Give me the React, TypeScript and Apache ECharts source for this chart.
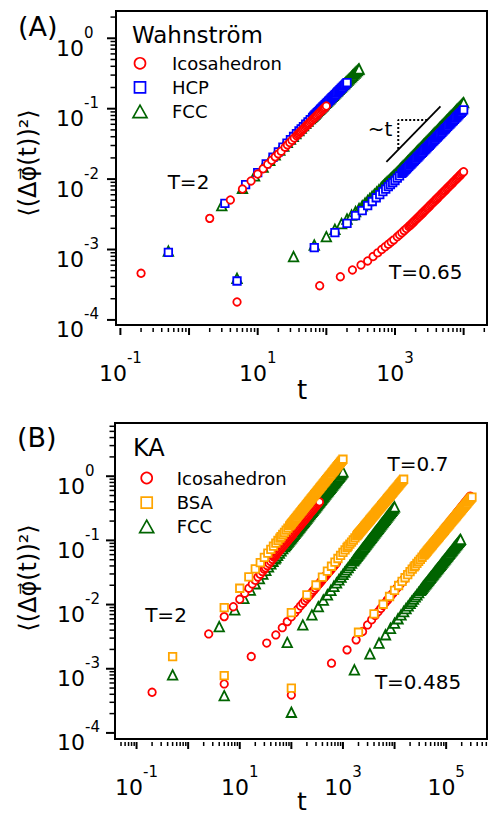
import { useEffect, useRef } from 'react';
import * as echarts from 'echarts';

const FONT = "'DejaVu Sans', 'Noto Sans', sans-serif";
const RED = '#ff0000';
const BLUE = '#0000ff';
const GREEN = '#006400';
const ORANGE = '#ffa500';

// ---------- Panel A (Wahnström) : [t, <(Δφ(t))²>] ----------
const wIcoT2 = [[0.2,4.6e-4],[2,2.77e-3],[4,5.05e-3],[6,7.23e-3],[8,9.4e-3],[10,1.18e-2],[12,1.40e-2],[14,1.63e-2],[16,1.85e-2],[18,2.07e-2],[20,2.28e-2],[22,2.49e-2],
[25.1,0.0284],[27.1,0.0306],[29.3,0.0330],[31.6,0.0356],[34.1,0.0384],[36.9,0.0413],[39.8,0.0445],[43.0,0.0480],[46.4,0.0516],[50.1,0.0557],[54.1,0.0600],[58.4,0.0646],[63.1,0.0697],[68.1,0.0750],[73.6,0.0809],[79.4,0.0871],[85.8,0.0940],[92.6,0.101],[100,0.109]];
const wIcoT2Fill = [[38.3,0.0429],[41.4,0.0463],[44.7,0.0498],[48.2,0.0537],[52.1,0.0579],[56.2,0.0623],[60.7,0.0672],[65.6,0.0724],[70.8,0.0780],[76.4,0.0840],[82.5,0.0906],[89.1,0.0975],[96.2,0.105]];
const wIcoT065 = [[5,1.8e-4],[80,3.06e-4],[160,4.11e-4],[240,5.12e-4],[320,6.03e-4],[400,6.87e-4],[480,7.94e-4],[560,8.97e-4],[640,9.98e-4],[720,1.094e-3],[800,1.189e-3],[880,1.279e-3],[960,1.371e-3],
[1080,1.514e-3],[1166,1.618e-3],[1259,1.734e-3],[1359,1.854e-3],[1468,1.985e-3],[1585,2.123e-3],[1711,2.272e-3],[1848,2.439e-3],[1995,2.628e-3],[2154,2.831e-3],[2326,3.05e-3],[2512,3.286e-3],[2712,3.54e-3],[2929,3.814e-3],[3162,4.11e-3],[3415,4.43e-3],[3687,4.776e-3],[3981,5.149e-3],[4299,5.55e-3],[4642,5.98e-3],[5012,6.45e-3],[5412,6.955e-3],[5843,7.50e-3],[6310,8.09e-3],[6813,8.72e-3],[7356,9.41e-3],[7943,1.015e-2],[8577,1.095e-2],[9261,1.181e-2],[10000,1.274e-2]];
const wIcoT065Fill = [[1647,2.198e-3],[1778,2.356e-3],[1920,2.534e-3],[2073,2.730e-3],[2239,2.941e-3],[2417,3.168e-3],[2610,3.413e-3],[2818,3.677e-3],[3043,3.962e-3],[3286,4.27e-3],[3548,4.603e-3],[3831,4.963e-3],[4137,5.35e-3],[4467,5.765e-3],[4823,6.215e-3],[5208,6.703e-3],[5623,7.228e-3],[6072,7.795e-3],[6556,8.405e-3],[7079,9.065e-3],[7644,9.78e-3],[8254,1.055e-2],[8913,1.138e-2],[9624,1.228e-2]];
const wHcpT2 = [[0.5,9.1e-4],[3.33,4.53e-3],[6.67,8.32e-3],[10,1.238e-2],[13.3,1.641e-2],[16.7,2.043e-2],[20,2.443e-2],[23.3,2.842e-2],[26.7,3.24e-2],[30,3.636e-2],[33.3,4.03e-2],[36.7,4.43e-2],[40,4.82e-2],
[43.0,5.175e-2],[46.4,5.58e-2],[50.1,6.02e-2],[54.1,6.49e-2],[58.4,6.997e-2],[63.1,7.54e-2],[68.1,8.13e-2],[73.6,8.77e-2],[79.4,9.45e-2],[85.8,0.1019],[92.6,0.1099],[100,0.1185],[108,0.1277],[116.6,0.1377],[125.9,0.1485],[135.9,0.1601],[146.8,0.1726],[158.5,0.1862],[171.1,0.2007],[184.8,0.2164],[200,0.2339]];
const wHcpT2Fill = [[65.6,0.07835],[70.8,0.0845],[76.4,0.0911],[82.5,0.0982],[89.1,0.1059],[96.2,0.1142],[103.9,0.1231],[112.2,0.1327],[121.2,0.1431],[130.8,0.1543],[141.3,0.1664],[152.5,0.1794],[164.7,0.1935],[177.8,0.2086],[192.0,0.2252]];
const wHcpT065 = [[5,3.57e-4],[66.7,1.062e-3],[133.3,1.734e-3],[200,2.355e-3],[266.7,3.02e-3],[333.3,3.556e-3],[400,4.19e-3],[466.7,4.81e-3],[533.3,5.43e-3],[600,6.03e-3],[666.7,6.64e-3],[733.3,7.225e-3],[800,7.82e-3],
[858,8.32e-3],[926,8.92e-3],[1000,9.55e-3],[1080,1.031e-2],[1166,1.114e-2],[1259,1.203e-2],[1359,1.299e-2],[1468,1.403e-2],[1585,1.515e-2],[1711,1.636e-2],[1848,1.767e-2],[1995,1.908e-2],[2154,2.061e-2],[2326,2.225e-2],[2512,2.403e-2],[2712,2.595e-2],[2929,2.803e-2],[3162,3.027e-2],[3415,3.268e-2],[3687,3.53e-2],[3981,3.812e-2],[4299,4.116e-2],[4642,4.446e-2],[5012,4.80e-2],[5412,5.185e-2],[5843,5.60e-2],[6310,6.048e-2],[6813,6.53e-2],[7356,7.05e-2],[7943,7.617e-2],[8577,8.228e-2],[9261,8.884e-2],[10000,9.594e-2]];
const wHcpT065Fill = [[1308,1.251e-2],[1413,1.351e-2],[1525,1.459e-2],[1647,1.576e-2],[1778,1.702e-2],[1920,1.838e-2],[2073,1.985e-2],[2239,2.143e-2],[2417,2.314e-2],[2610,2.499e-2],[2818,2.699e-2],[3043,2.915e-2],[3286,3.148e-2],[3548,3.399e-2],[3831,3.671e-2],[4137,3.964e-2],[4467,4.281e-2],[4823,4.623e-2],[5208,4.993e-2],[5623,5.393e-2],[6072,5.824e-2],[6556,6.289e-2],[7079,6.79e-2],[7644,7.334e-2],[8254,7.923e-2],[8913,8.556e-2],[9624,9.239e-2]];
const wFccT2 = [[0.5,9.5e-4],[3,4.19e-3],[6,7.41e-3],[9,1.110e-2],[12,1.480e-2],[15,1.849e-2],[18,2.216e-2],[21,2.585e-2],[24,2.953e-2],[27,3.319e-2],[30,3.69e-2],[33,4.063e-2],[36,4.42e-2],
[39.8,4.893e-2],[43.0,5.313e-2],[46.4,5.735e-2],[50.1,6.19e-2],[54.1,6.68e-2],[58.4,7.216e-2],[63.1,7.79e-2],[68.1,8.41e-2],[73.6,9.08e-2],[79.4,9.80e-2],[85.8,0.1058],[92.6,0.1143],[100,0.1233],[108,0.1331],[116.6,0.1438],[125.9,0.1551],[135.9,0.1675],[146.8,0.1809],[158.5,0.1953],[171.1,0.2108],[184.8,0.2276],[199.5,0.2457],[215.4,0.2652],[232.6,0.2863],[251.2,0.3091],[271.2,0.3337],[292.9,0.3603],[300,0.3664]];
const wFccT2Fill = [[60.7,0.07503],[65.6,0.081],[70.8,0.08745],[76.4,0.0944],[82.5,0.1019],[89.1,0.1101],[96.2,0.1188],[103.9,0.1282],[112.2,0.1385],[121.2,0.1495],[130.8,0.1613],[141.3,0.1742],[152.5,0.1881],[164.7,0.2031],[177.8,0.2192],[192.0,0.2367],[207.3,0.2555],[223.9,0.2758],[241.7,0.2977],[261.0,0.3214],[281.8,0.347]];
const wFccT065 = [[5,3.9e-4],[33.3,7.94e-4],[66.7,1.159e-3],[100,1.521e-3],[133.3,1.934e-3],[166.7,2.332e-3],[200,2.714e-3],[233.3,3.088e-3],[266.7,3.452e-3],[300,3.81e-3],[333.3,4.18e-3],[366.7,4.566e-3],[400,4.95e-3],
[429.9,5.30e-3],[464.2,5.69e-3],[501.2,6.11e-3],[541.2,6.56e-3],[584.3,7.05e-3],[631,7.57e-3],[681.3,8.13e-3],[735.6,8.73e-3],[794.3,9.38e-3],[857.7,1.007e-2],[926.1,1.081e-2],[1000,1.161e-2],[1080,1.256e-2],[1166,1.358e-2],[1259,1.469e-2],[1359,1.589e-2],[1468,1.718e-2],[1585,1.858e-2],[1711,2.009e-2],[1848,2.173e-2],[1995,2.35e-2],[2154,2.541e-2],[2326,2.748e-2],[2512,2.972e-2],[2712,3.214e-2],[2929,3.475e-2],[3162,3.758e-2],[3415,4.064e-2],[3687,4.395e-2],[3981,4.753e-2],[4299,5.14e-2],[4642,5.559e-2],[5012,6.012e-2],[5412,6.501e-2],[5843,7.031e-2],[6310,7.603e-2],[6813,8.222e-2],[7356,8.892e-2],[7943,9.616e-2],[8577,0.104],[9261,0.1125],[10000,0.1216]];
const wFccT065Fill = [[655.7,7.85e-3],[707.9,8.43e-3],[764.4,9.055e-3],[825.4,9.725e-3],[891.3,1.044e-2],[962.4,1.121e-2],[1039,1.209e-2],[1122,1.307e-2],[1212,1.414e-2],[1308,1.529e-2],[1413,1.654e-2],[1525,1.788e-2],[1647,1.934e-2],[1778,2.091e-2],[1920,2.262e-2],[2073,2.446e-2],[2239,2.645e-2],[2417,2.86e-2],[2610,3.093e-2],[2818,3.345e-2],[3043,3.617e-2],[3286,3.911e-2],[3548,4.23e-2],[3831,4.574e-2],[4137,4.947e-2],[4467,5.35e-2],[4823,5.786e-2],[5208,6.257e-2],[5623,6.766e-2],[6072,7.317e-2],[6556,7.913e-2],[7079,8.557e-2],[7644,9.254e-2],[8254,0.1001],[8913,0.1083],[9624,0.1171]];

// ---------- Panel B (KA) ----------
const kIcoT2 = [[0.2,4.3e-4],[2.5,3.49e-3],[5,6.49e-3],[7.5,9.27e-3],[10,1.208e-2],[12.5,1.504e-2],[15,1.80e-2],[17.5,2.094e-2],[20,2.387e-2],[22.5,2.679e-2],[25,2.972e-2],[27.5,3.262e-2],[30,3.555e-2],
[31.6,3.745e-2],[34.1,4.04e-2],[36.9,4.355e-2],[39.8,4.697e-2],[43.0,5.064e-2],[46.4,5.46e-2],[50.1,5.89e-2],[54.1,6.35e-2],[58.4,6.85e-2],[63.1,7.386e-2],[68.1,7.963e-2],[73.6,8.59e-2],[79.4,9.26e-2],[85.8,9.99e-2],[92.6,0.1077],[100,0.1161],[108,0.1252],[116.6,0.135],[125.9,0.1456],[135.9,0.157],[146.8,0.1693],[158.5,0.1826],[171.1,0.1969],[184.8,0.2124],[199.5,0.2291],[215.4,0.247],[232.6,0.2664],[251.2,0.2872],[271.2,0.3097],[292.9,0.334],[316.2,0.3602],[341.5,0.3884],[350,0.398]];
const kIcoT2Fill = [[48.2,0.05675],[52.1,0.0612],[56.2,0.066],[60.7,0.07118],[65.6,0.07675],[70.8,0.08277],[76.4,0.08925],[82.5,0.09625],[89.1,0.1038],[96.2,0.1119],[103.9,0.1207],[112.2,0.1301],[121.2,0.1403],[130.8,0.1513],[141.3,0.1632],[152.5,0.176],[164.7,0.1898],[177.8,0.2047],[192.0,0.2208],[207.3,0.2381],[223.9,0.2567],[241.7,0.2768],[261.0,0.2985],[281.8,0.3219],[304.3,0.3471],[328.6,0.3743]];
const kIcoT07 = [[5,5.8e-4],[16.7,1.549e-3],[33.3,2.512e-3],[50,3.365e-3],[66.7,4.365e-3],[83.3,5.42e-3],[100,6.44e-3],[116.7,7.46e-3],[133.3,8.47e-3],[150,9.47e-3],[166.7,1.047e-2],[183.3,1.145e-2],[200,1.245e-2],
[215.4,1.337e-2],[232.6,1.441e-2],[251.2,1.552e-2],[271.2,1.672e-2],[292.9,1.802e-2],[316.2,1.941e-2],[341.5,2.091e-2],[368.7,2.253e-2],[398.1,2.427e-2],[429.9,2.615e-2],[464.2,2.817e-2],[501.2,3.034e-2],[541.2,3.268e-2],[584.3,3.521e-2],[631,3.793e-2],[681.3,4.086e-2],[735.6,4.402e-2],[750,4.485e-2]];
const kIcoT07Fill = [[328.6,2.016e-2],[354.8,2.172e-2],[383.1,2.34e-2],[413.7,2.521e-2],[446.7,2.716e-2],[482.3,2.926e-2],[520.8,3.151e-2],[562.3,3.395e-2],[607.2,3.657e-2],[655.7,3.94e-2],[707.9,4.244e-2]];
const kIcoT0485 = [[100,3.9e-4],[600,1.222e-3],[1200,1.968e-3],[1800,2.818e-3],[2400,3.802e-3],[3000,4.82e-3],[3600,5.79e-3],[4200,6.765e-3],[4800,7.74e-3],[5400,8.71e-3],[6000,9.70e-3],[6600,1.069e-2],[7200,1.165e-2],
[7356,1.191e-2],[7943,1.287e-2],[8577,1.391e-2],[9261,1.503e-2],[10000,1.624e-2],[10800,1.754e-2],[11660,1.895e-2],[12590,2.048e-2],[13590,2.213e-2],[14680,2.391e-2],[15850,2.583e-2],[17110,2.792e-2],[18480,3.017e-2],[19950,3.259e-2],[21540,3.522e-2],[23260,3.805e-2],[25120,4.111e-2],[27120,4.442e-2],[29290,4.80e-2],[31620,5.187e-2],[34150,5.604e-2],[36870,6.055e-2],[39810,6.542e-2],[42990,7.069e-2],[46420,7.638e-2],[50120,8.253e-2],[54120,8.917e-2],[58430,9.636e-2],[63100,0.1041],[68130,0.1125],[73560,0.1215],[79430,0.1313],[85770,0.1419],[92610,0.1533],[100000,0.1657],[108000,0.179],[116600,0.1934],[125900,0.209],[135900,0.2258],[146800,0.244],[158500,0.2636],[171100,0.2848],[184800,0.3077],[199500,0.3326],[215400,0.3593],[232600,0.3882],[251200,0.4195],[271200,0.4533],[292900,0.4898]];
const kIcoT0485Fill = [[11220,1.825e-2],[12120,1.972e-2],[13080,2.131e-2],[14130,2.302e-2],[15250,2.487e-2],[16470,2.688e-2],[17780,2.905e-2],[19200,3.138e-2],[20730,3.391e-2],[22390,3.664e-2],[24170,3.958e-2],[26100,4.277e-2],[28180,4.621e-2],[30430,4.994e-2],[32860,5.396e-2],[35480,5.83e-2],[38310,6.299e-2],[41370,6.806e-2],[44670,7.354e-2],[48230,7.946e-2],[52080,8.585e-2],[56230,9.277e-2],[60720,0.1002],[65560,0.1083],[70790,0.117],[76440,0.1264],[82540,0.1366],[89130,0.1476],[96240,0.1595],[103900,0.1724],[112200,0.1862],[121200,0.2012],[130800,0.2174],[141300,0.2349],[152500,0.2538],[164700,0.2742],[177800,0.2963],[192000,0.3202],[207300,0.346],[223900,0.3738],[241700,0.4039],[261000,0.4364],[281800,0.4716]];
const kBsaT2 = [[0.5,1.55e-3],[5,8.95e-3],[10,1.797e-2],[15,2.70e-2],[20,3.606e-2],[25,4.51e-2],[30,5.42e-2],[35,6.33e-2],[40,7.235e-2],[45,8.14e-2],[50,9.06e-2],[55,9.96e-2],[60,0.1088],
[63.1,0.1144],[68.1,0.1236],[73.6,0.1335],[79.4,0.1442],[85.8,0.1558],[92.6,0.1683],[100,0.1817],[108,0.1963],[116.6,0.2121],[125.9,0.2291],[135.9,0.2475],[146.8,0.2673],[158.5,0.2887],[171.1,0.3119],[184.8,0.337],[199.5,0.3639],[215.4,0.3931],[232.6,0.4246],[251.2,0.4587],[271.2,0.4955],[292.9,0.5352],[316.2,0.5781],[341.5,0.6245],[368.7,0.6745],[398.1,0.7286],[429.9,0.787],[464.2,0.8501],[501.2,0.9183],[541.2,0.992],[584.3,1.0715],[631,1.157],[681.3,1.25],[735.6,1.35],[794.3,1.459],[857.7,1.576],[926.1,1.702],[1000,1.839]];
const kBsaT2Fill = [[96.2,0.175],[103.9,0.189],[112.2,0.2042],[121.2,0.2206],[130.8,0.2383],[141.3,0.2574],[152.5,0.278],[164.7,0.3003],[177.8,0.3245],[192.0,0.3505],[207.3,0.3785],[223.9,0.4089],[241.7,0.4417],[261.0,0.4771],[281.8,0.5154],[304.3,0.5567],[328.6,0.6013],[354.8,0.6495],[383.1,0.7016],[413.7,0.7578],[446.7,0.8186],[482.3,0.8842],[520.8,0.9552],[562.3,1.032],[607.2,1.114],[655.7,1.204],[707.9,1.3],[764.4,1.405],[825.4,1.518],[891.3,1.639],[962.4,1.771]];
const kBsaT07 = [[5,7.8e-4],[100,7.48e-3],[200,1.413e-2],[300,2.018e-2],[400,2.668e-2],[500,3.313e-2],[600,3.954e-2],[700,4.592e-2],[800,5.226e-2],[900,5.858e-2],[1000,6.49e-2],[1100,7.115e-2],[1200,7.745e-2],
[1259,8.115e-2],[1359,8.74e-2],[1468,9.42e-2],[1585,0.1015],[1711,0.1093],[1848,0.1178],[1995,0.1269],[2154,0.1367],[2326,0.1472],[2512,0.1586],[2712,0.1709],[2929,0.1841],[3162,0.1983],[3415,0.2136],[3687,0.2301],[3981,0.2479],[4299,0.2671],[4642,0.2877],[5012,0.3099],[5412,0.3339],[5843,0.3597],[6310,0.3875],[6813,0.4174],[7356,0.4498],[7943,0.4845],[8577,0.5219],[9261,0.5623],[10000,0.6057],[10800,0.6525],[11660,0.7031],[12590,0.7574],[13590,0.8159],[14680,0.879],[15000,0.8974]];
const kBsaT07Fill = [[1920,0.1224],[2073,0.1318],[2239,0.142],[2417,0.1529],[2610,0.1648],[2818,0.1775],[3043,0.1912],[3286,0.206],[3548,0.2219],[3831,0.239],[4137,0.2575],[4467,0.2774],[4823,0.2988],[5208,0.3219],[5623,0.3468],[6072,0.3736],[6556,0.4025],[7079,0.4336],[7644,0.4672],[8254,0.5032],[8913,0.5421],[9624,0.584],[10390,0.6291],[11220,0.6778],[12120,0.7303],[13080,0.7867],[14130,0.8475]];
const kBsaT0485 = [[100,5.0e-4],[2000,3.707e-3],[4000,7.145e-3],[6000,1.012e-2],[8000,1.337e-2],[10000,1.661e-2],[12000,1.982e-2],[14000,2.301e-2],[16000,2.62e-2],[18000,2.936e-2],[20000,3.253e-2],[22000,3.565e-2],[24000,3.88e-2],
[25120,4.058e-2],[27120,4.372e-2],[29290,4.71e-2],[31620,5.074e-2],[34150,5.465e-2],[36870,5.888e-2],[39810,6.343e-2],[42990,6.833e-2],[46420,7.362e-2],[50120,7.93e-2],[54120,8.543e-2],[58430,9.204e-2],[63100,9.915e-2],[68130,0.1068],[73560,0.1151],[79430,0.124],[85770,0.1336],[92610,0.1439],[100000,0.155],[108000,0.167],[116600,0.1799],[125900,0.1938],[135900,0.2088],[146800,0.2249],[158500,0.2423],[171100,0.261],[184800,0.2812],[199500,0.3029],[215400,0.3263],[232600,0.3516],[251200,0.3788],[271200,0.408],[292900,0.4395],[316200,0.4735]];
const kBsaT0485Fill = [[38310,0.06116],[41370,0.06588],[44670,0.07098],[48230,0.07646],[52080,0.08237],[56230,0.08874],[60720,0.0956],[65560,0.103],[70790,0.111],[76440,0.1196],[82540,0.1288],[89130,0.1388],[96240,0.1495],[103900,0.161],[112200,0.1735],[121200,0.1869],[130800,0.2013],[141300,0.2169],[152500,0.2336],[164700,0.2517],[177800,0.2711],[192000,0.2921],[207300,0.3146],[223900,0.339],[241700,0.3652],[261000,0.3934],[281800,0.4238],[304300,0.4565]];
const kFccT2 = [[0.5,8.0e-4],[4,4.54e-3],[8,8.24e-3],[12,1.249e-2],[16,1.678e-2],[20,2.11e-2],[24,2.543e-2],[28,2.979e-2],[32,3.418e-2],[36,3.855e-2],[40,4.297e-2],[44,4.734e-2],[48,5.178e-2],
[50.1,5.415e-2],[54.1,5.859e-2],[58.4,6.34e-2],[63.1,6.86e-2],[68.1,7.42e-2],[73.6,8.03e-2],[79.4,8.69e-2],[85.8,9.40e-2],[92.6,0.1017],[100,0.11],[108,0.119],[116.6,0.1288],[125.9,0.1394],[135.9,0.1508],[146.8,0.1631],[158.5,0.1765],[171.1,0.191],[184.8,0.2066],[199.5,0.2235],[215.4,0.2418],[232.6,0.2617],[251.2,0.2831],[271.2,0.3063],[292.9,0.3314],[316.2,0.3585],[341.5,0.3879],[368.7,0.4197],[398.1,0.4541],[429.9,0.4913],[464.2,0.5315],[501.2,0.5751],[541.2,0.6223],[584.3,0.6732],[631,0.7284],[681.3,0.7881],[735.6,0.8525],[794.3,0.9224],[857.7,0.998],[926.1,1.08],[1000,1.168]];
const kFccT2Fill = [[76.4,0.0836],[82.5,0.09045],[89.1,0.09785],[96.2,0.1059],[103.9,0.1145],[112.2,0.1239],[121.2,0.1341],[130.8,0.1451],[141.3,0.157],[152.5,0.1698],[164.7,0.1838],[177.8,0.1988],[192.0,0.2151],[207.3,0.2327],[223.9,0.2518],[241.7,0.2724],[261.0,0.2947],[281.8,0.3189],[304.3,0.345],[328.6,0.3732],[354.8,0.4038],[383.1,0.4369],[413.7,0.4727],[446.7,0.5114],[482.3,0.5533],[520.8,0.5987],[562.3,0.6478],[607.2,0.7008],[655.7,0.7583],[707.9,0.8203],[764.4,0.8875],[825.4,0.9602],[891.3,1.039],[962.4,1.124]];
const kFccT07 = [[5,3.8e-4],[83.3,2.57e-3],[166.7,4.82e-3],[250,6.89e-3],[333.3,9.27e-3],[416.7,1.173e-2],[500,1.42e-2],[583.3,1.67e-2],[666.7,1.923e-2],[750,2.176e-2],[833.3,2.432e-2],[916.7,2.687e-2],[1000,2.946e-2],
[1080,3.194e-2],[1166,3.464e-2],[1259,3.755e-2],[1359,4.071e-2],[1468,4.413e-2],[1585,4.785e-2],[1711,5.188e-2],[1848,5.624e-2],[1995,6.098e-2],[2154,6.61e-2],[2326,7.168e-2],[2512,7.77e-2],[2712,8.425e-2],[2929,9.135e-2],[3162,9.90e-2],[3415,0.1074],[3687,0.1164],[3981,0.1262],[4299,0.1368],[4642,0.1483],[5012,0.1608],[5412,0.1744],[5843,0.189],[6310,0.205],[6813,0.2222],[7356,0.2409],[7943,0.2612],[8577,0.2832],[9261,0.307],[10000,0.3329]];
const kFccT07Fill = [[1647,4.987e-2],[1778,5.406e-2],[1920,5.861e-2],[2073,6.354e-2],[2239,6.889e-2],[2417,7.469e-2],[2610,8.098e-2],[2818,8.78e-2],[3043,9.518e-2],[3286,0.1032],[3548,0.1119],[3831,0.1213],[4137,0.1315],[4467,0.1426],[4823,0.1546],[5208,0.1676],[5623,0.1817],[6072,0.197],[6556,0.2136],[7079,0.2316],[7644,0.2511],[8254,0.2722],[8913,0.2951],[9624,0.32]];
const kFccT0485 = [[100,2.1e-4],[1667,9.62e-4],[3333,1.706e-3],[5000,2.512e-3],[6667,3.388e-3],[8333,4.266e-3],[10000,5.136e-3],[11667,6.01e-3],[13333,6.89e-3],[15000,7.765e-3],[16667,8.65e-3],[18333,9.52e-3],[20000,1.041e-2],
[21540,1.123e-2],[23260,1.215e-2],[25120,1.314e-2],[27120,1.42e-2],[29290,1.536e-2],[31620,1.661e-2],[34150,1.797e-2],[36870,1.943e-2],[39810,2.101e-2],[42990,2.272e-2],[46420,2.457e-2],[50120,2.658e-2],[54120,2.874e-2],[58430,3.108e-2],[63100,3.361e-2],[68130,3.635e-2],[73560,3.931e-2],[79430,4.251e-2],[85770,4.597e-2],[92610,4.972e-2],[100000,5.377e-2],[108000,5.814e-2],[116600,6.288e-2],[125900,6.80e-2],[135900,7.354e-2],[146800,7.952e-2],[158500,8.60e-2],[171100,9.30e-2],[184800,0.1006],[190000,0.1035]];
const kFccT0485Fill = [[32860,1.729e-2],[35480,1.87e-2],[38310,2.022e-2],[41370,2.187e-2],[44670,2.365e-2],[48230,2.558e-2],[52080,2.766e-2],[56230,2.991e-2],[60720,3.235e-2],[65560,3.498e-2],[70790,3.783e-2],[76440,4.091e-2],[82540,4.424e-2],[89130,4.785e-2],[96240,5.175e-2],[103900,5.596e-2],[112200,6.051e-2],[121200,6.544e-2],[130800,7.077e-2],[141300,7.653e-2],[152500,8.276e-2],[164700,8.95e-2],[177800,9.68e-2]];

// ~t guide (panel A)
const guideLineT = [750, 4600];
const guideLineY = [0.0176, 0.108];
const guideBoxT = [2945, 1117, 1117];
const guideBoxY = [0.0691, 0.0691, 0.0262];

// axis ranges and labelled exponents
const xRangeA = [0.0863, 21900];
const yRangeA = [8.47e-5, 2.44];
const xRangeB = [0.03823, 618800];
const yRangeB = [8.04e-5, 6.75];
const xLabelExpA = [-1, 1, 3];
const xLabelExpB = [-1, 1, 3, 5];
const yLabelExp = [-4, -3, -2, -1, 0];

// merge a run with its extra readings, ordered by time (later points drawn on top)
const run = (...parts: number[][][]) => ([] as number[][]).concat(...parts).sort((p, q) => p[0] - q[0]);

function decadeTicks(lo: number, hi: number, fromExp: number) {
  const out: number[][] = [];
  const top = Math.ceil(Math.log10(hi));
  for (let e = fromExp; e <= top; e++) {
    for (let m = 1; m <= 9; m++) {
      const v = m * Math.pow(10, e);
      if (v >= lo && v <= hi) out.push([v, m === 1 ? 1 : 0]);
    }
  }
  return out;
}

const rich = {
  b: { fontSize: 22, fontFamily: FONT, lineHeight: 34, verticalAlign: 'bottom', color: '#000' },
  s: { fontSize: 15, fontFamily: FONT, lineHeight: 16, verticalAlign: 'top', color: '#000' },
};
const fmt = (exps: number[]) => (v: number) => {
  const e = Math.log10(v);
  const r = Math.round(e);
  if (Math.abs(e - r) > 1e-6 || exps.indexOf(r) < 0) return '';
  return '{b|10}{s|' + r + '}';
};

function tickSeries(grid: number, ticks: number[][], dir: string, anchor: number) {
  return {
    type: 'custom', xAxisIndex: grid, yAxisIndex: grid, silent: true, clip: false, z: 20,
    data: ticks.map(([v, major]) => (dir === 'x' ? [v, anchor, major] : [anchor, v, major])),
    renderItem: (_p: any, api: any) => {
      const p = api.coord([api.value(0), api.value(1)]);
      const major = api.value(2) === 1;
      const lw = major ? 2 : 1.5;
      if (dir === 'x') {
        return { type: 'line', shape: { x1: p[0], y1: p[1] + 3, x2: p[0], y2: p[1] + (major ? 10 : 7) }, style: { stroke: '#000', lineWidth: lw } };
      }
      return { type: 'line', shape: { x1: p[0] - (major ? 9 : 5.5), y1: p[1], x2: p[0], y2: p[1] }, style: { stroke: '#000', lineWidth: lw } };
    },
  };
}

function scatter(name: string, grid: number, data: number[][], symbol: string, size: number, color: string) {
  return {
    type: 'scatter', name, xAxisIndex: grid, yAxisIndex: grid, data, symbol, symbolSize: size,
    itemStyle: { color: '#fff', borderColor: color, borderWidth: 1.8, opacity: 1 },
    emphasis: { disabled: true }, silent: true,
  };
}

const txt = (text: string, x: number, y: number, size: number, align = 'center', extra: any = {}) => ({
  type: 'text', x, y, ...extra,
  style: { text, font: `${size}px ${FONT}`, fill: '#000', align, textAlign: align, verticalAlign: 'middle', textVerticalAlign: 'middle' },
});

function legendBlock(x: number, tx: number, ys: number[], names: string[], colors: string[]) {
  const els: any[] = [];
  els.push({ type: 'circle', shape: { cx: x, cy: ys[0], r: 5.5 }, style: { fill: '#fff', stroke: colors[0], lineWidth: 1.7 } });
  els.push({ type: 'rect', shape: { x: x - 5.5, y: ys[1] - 5.5, width: 11, height: 11 }, style: { fill: '#fff', stroke: colors[1], lineWidth: 1.7 } });
  els.push({ type: 'polygon', shape: { points: [[x, ys[2] - 6.5], [x + 7, ys[2] + 6], [x - 7, ys[2] + 6]] }, style: { fill: '#fff', stroke: colors[2], lineWidth: 1.7 } });
  names.forEach((n, i) => els.push(txt(n, tx, ys[i], 18, 'left')));
  return els;
}

export default function App() {
  const ref = useRef<HTMLDivElement>(null);
  useEffect(() => {
    if (!ref.current) return;
    const chart = echarts.init(ref.current, null, { renderer: 'svg' });
    const yTitle = '\u27E8(\u0394\u03C6\u20D7(t))\u00B2\u27E9';
    const option: any = {
      animation: false,
      textStyle: { fontFamily: FONT },
      grid: [
        { left: 116, top: 11, width: 372, height: 314, show: true, borderColor: '#000', borderWidth: 2, backgroundColor: 'transparent' },
        { left: 115, top: 423, width: 373, height: 316, show: true, borderColor: '#000', borderWidth: 2, backgroundColor: 'transparent' },
      ],
      xAxis: [
        { type: 'log', gridIndex: 0, min: xRangeA[0], max: xRangeA[1], axisLine: { show: false }, axisTick: { show: false }, splitLine: { show: false },
          axisLabel: { margin: 25, formatter: fmt(xLabelExpA), rich, hideOverlap: false } },
        { type: 'log', gridIndex: 1, min: xRangeB[0], max: xRangeB[1], axisLine: { show: false }, axisTick: { show: false }, splitLine: { show: false },
          axisLabel: { margin: 25, formatter: fmt(xLabelExpB), rich, hideOverlap: false } },
      ],
      yAxis: [
        { type: 'log', gridIndex: 0, min: yRangeA[0], max: yRangeA[1], axisLine: { show: false }, axisTick: { show: false }, splitLine: { show: false },
          axisLabel: { margin: 60, align: 'left', padding: [8, 0, 0, 0], formatter: fmt(yLabelExp), rich, hideOverlap: false } },
        { type: 'log', gridIndex: 1, min: yRangeB[0], max: yRangeB[1], axisLine: { show: false }, axisTick: { show: false }, splitLine: { show: false },
          axisLabel: { margin: 58, align: 'left', padding: [8, 0, 0, 0], formatter: fmt(yLabelExp), rich, hideOverlap: false } },
      ],
      series: [
        scatter('FCC', 0, [...run(wFccT2, wFccT2Fill), ...run(wFccT065, wFccT065Fill)], 'triangle', 9.5, GREEN),
        scatter('HCP', 0, [...run(wHcpT2, wHcpT2Fill), ...run(wHcpT065, wHcpT065Fill)], 'rect', 7.5, BLUE),
        scatter('Icosahedron', 0, [...run(wIcoT2, wIcoT2Fill), ...run(wIcoT065, wIcoT065Fill)], 'circle', 7.5, RED),
        scatter('FCC', 1, [...run(kFccT2, kFccT2Fill), ...run(kFccT07, kFccT07Fill), ...run(kFccT0485, kFccT0485Fill)], 'triangle', 9.5, GREEN),
        scatter('Icosahedron', 1, [...run(kIcoT2, kIcoT2Fill), ...run(kIcoT07, kIcoT07Fill), ...run(kIcoT0485, kIcoT0485Fill)], 'circle', 7.5, RED),
        scatter('BSA', 1, [...run(kBsaT2, kBsaT2Fill), ...run(kBsaT07, kBsaT07Fill), ...run(kBsaT0485, kBsaT0485Fill)], 'rect', 7.5, ORANGE),
        { type: 'line', xAxisIndex: 0, yAxisIndex: 0, silent: true, symbol: 'none', z: 5,
          data: guideLineT.map((t, i) => [t, guideLineY[i]]), lineStyle: { color: '#000', width: 1.8 } },
        { type: 'line', xAxisIndex: 0, yAxisIndex: 0, silent: true, symbol: 'none', z: 5,
          data: guideBoxT.map((t, i) => [t, guideBoxY[i]]), lineStyle: { color: '#000', width: 2, type: [2, 2] } },
        tickSeries(0, decadeTicks(0.0999, xRangeA[1], -1), 'x', yRangeA[0]),
        tickSeries(0, decadeTicks(0.99e-4, yRangeA[1], -4), 'y', xRangeA[0]),
        tickSeries(1, decadeTicks(0.0499, xRangeB[1], -2), 'x', yRangeB[0]),
        tickSeries(1, decadeTicks(0.99e-4, yRangeB[1], -4), 'y', xRangeB[0]),
      ],
      graphic: [
        txt('(A)', 18, 26, 27, 'left'),
        txt('(B)', 17, 437, 27, 'left'),
        txt('Wahnstr\u00F6m', 132, 35, 23, 'left'),
        txt('KA', 133, 448, 24, 'left'),
        ...legendBlock(140, 172, [63.3, 87.3, 111.7], ['Icosahedron', 'HCP', 'FCC'], [RED, BLUE, GREEN]),
        ...legendBlock(146.7, 176.7, [478, 502.7, 526.7], ['Icosahedron', 'BSA', 'FCC'], [RED, ORANGE, GREEN]),
        txt('T=2', 188.5, 181.5, 20),
        txt('T=0.65', 425.8, 271.5, 20),
        txt('~t', 380, 129, 20),
        txt('T=0.7', 418, 464, 20),
        txt('T=2', 166, 615, 20),
        txt('T=0.485', 418, 682, 20),
        txt('t', 302, 390, 26),
        txt('t', 302, 801, 25),
        txt(yTitle, 28, 163, 24, 'center', { rotation: Math.PI / 2 }),
        txt(yTitle, 28, 578, 24, 'center', { rotation: Math.PI / 2 }),
      ],
    };
    chart.setOption(option);
    return () => chart.dispose();
  }, []);
  return <div ref={ref} style={{ position: 'absolute', left: 0, top: 0, width: 490, height: 819, background: '#fff' }} />;
}
